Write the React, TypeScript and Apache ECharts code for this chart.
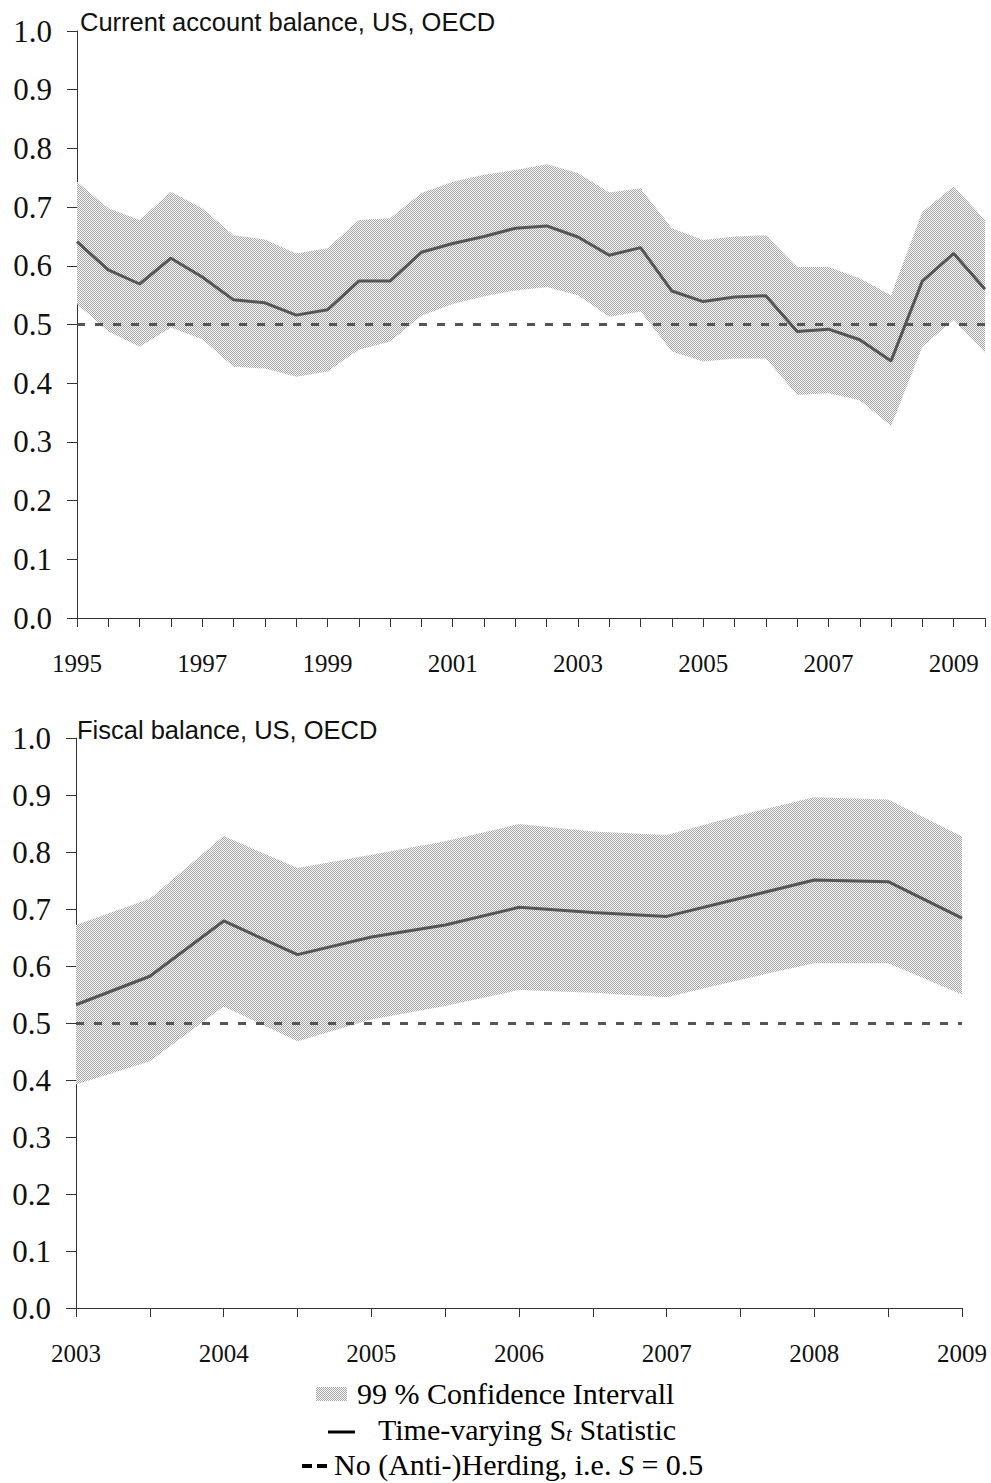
import React, { useEffect, useRef } from "react";
import * as echarts from "echarts";

// ---------- Data ----------
const caCategories = [
  "1995-1", "1995-2", "1996-1", "1996-2", "1997-1", "1997-2", "1998-1", "1998-2",
  "1999-1", "1999-2", "2000-1", "2000-2", "2001-1", "2001-2", "2002-1", "2002-2",
  "2003-1", "2003-2", "2004-1", "2004-2", "2005-1", "2005-2", "2006-1", "2006-2",
  "2007-1", "2007-2", "2008-1", "2008-2", "2009-1", "2009-2",
];
const caStatistic = [
  0.641, 0.593, 0.569, 0.613, 0.581, 0.542, 0.537, 0.516, 0.525, 0.574,
  0.574, 0.623, 0.638, 0.650, 0.664, 0.668, 0.649, 0.618, 0.631, 0.557,
  0.539, 0.547, 0.549, 0.488, 0.492, 0.474, 0.438, 0.574, 0.621, 0.560,
];
const caUpper = [
  0.743, 0.698, 0.678, 0.726, 0.698, 0.652, 0.645, 0.621, 0.630, 0.678,
  0.681, 0.724, 0.743, 0.755, 0.763, 0.773, 0.758, 0.725, 0.732, 0.664,
  0.644, 0.650, 0.652, 0.598, 0.598, 0.579, 0.550, 0.692, 0.735, 0.678,
];
const caLower = [
  0.535, 0.488, 0.462, 0.495, 0.475, 0.428, 0.425, 0.411, 0.420, 0.457,
  0.471, 0.515, 0.535, 0.548, 0.558, 0.564, 0.550, 0.513, 0.522, 0.454,
  0.437, 0.442, 0.442, 0.380, 0.383, 0.371, 0.327, 0.462, 0.508, 0.452,
];

const fbCategories = [
  "2003-1", "2003-2", "2004-1", "2004-2", "2005-1", "2005-2", "2006-1",
  "2006-2", "2007-1", "2007-2", "2008-1", "2008-2", "2009-1",
];
const fbStatistic = [0.532, 0.582, 0.679, 0.620, 0.651, 0.672, 0.703, 0.694, 0.687, 0.719, 0.751, 0.748, 0.684];
const fbUpper = [0.672, 0.718, 0.828, 0.772, 0.795, 0.819, 0.849, 0.836, 0.830, 0.865, 0.896, 0.892, 0.827];
const fbLower = [0.392, 0.433, 0.529, 0.468, 0.506, 0.530, 0.558, 0.553, 0.545, 0.576, 0.605, 0.605, 0.550];

const referenceLevel = 0.5;
const titles = ["Current account balance, US, OECD", "Fiscal balance, US, OECD"];
const legendTexts = [
  "99 % Confidence Intervall",
  "Time-varying S{sub|t} Statistic",
  "No (Anti-)Herding, i.e. {it|S} = 0.5",
];

// ---------- Styles ----------
const SERIF = '"Liberation Serif", "Times New Roman", serif';
const SANS = '"Liberation Sans", Arial, sans-serif';
const LINE_COLOR = "#555555";
const AXIS_COLOR = "#333333";

function makePattern() {
  const c = document.createElement("canvas");
  c.width = 4;
  c.height = 4;
  const ctx = c.getContext("2d")!;
  ctx.fillStyle = "#f8f8f8";
  ctx.fillRect(0, 0, 4, 4);
  ctx.fillStyle = "#a6a6a6";
  for (let y = 0; y < 4; y++) {
    for (let x = 0; x < 4; x++) {
      if ((x + y) % 2 === 0) ctx.fillRect(x, y, 1, 1);
    }
  }
  return { image: c, repeat: "repeat", imageWidth: 4, imageHeight: 4 } as any;
}

export default function App() {
  const ref = useRef<HTMLDivElement>(null);

  useEffect(() => {
    if (!ref.current) return;
    const chart = echarts.init(ref.current, undefined, { renderer: "svg" });
    const pattern = makePattern();

    const grids = [
      { left: 77, top: 31, width: 908, height: 587 },
      { left: 76, top: 738, width: 886, height: 570 },
    ];

    const xAxis = [caCategories, fbCategories].map((cats, i) => ({
      type: "category",
      gridIndex: i,
      data: cats,
      boundaryGap: false,
      axisLine: { show: true, lineStyle: { color: AXIS_COLOR, width: 1 } },
      axisTick: { show: true, interval: 0, length: 9, lineStyle: { color: AXIS_COLOR } },
      axisLabel: {
        interval: i === 0 ? 3 : 1,
        margin: 33,
        fontFamily: SERIF,
        fontSize: 25,
        color: "#111",
        formatter: (v: string) => v.slice(0, 4),
      },
      splitLine: { show: false },
    }));

    const yAxis = [0, 1].map((i) => ({
      type: "value",
      gridIndex: i,
      min: 0,
      max: 1,
      interval: 0.1,
      axisLine: { show: true, lineStyle: { color: AXIS_COLOR, width: 1 } },
      axisTick: { show: true, length: 10, lineStyle: { color: AXIS_COLOR } },
      axisLabel: {
        margin: 25,
        fontFamily: SERIF,
        fontSize: 31,
        color: "#111",
        formatter: (v: number) => v.toFixed(1),
      },
      splitLine: { show: false },
    }));

    const datasets = [
      { stat: caStatistic, up: caUpper, lo: caLower },
      { stat: fbStatistic, up: fbUpper, lo: fbLower },
    ];

    const series: any[] = [];
    datasets.forEach((d, i) => {
      series.push({
        type: "line",
        xAxisIndex: i,
        yAxisIndex: i,
        stack: "ci" + i,
        data: d.lo,
        symbol: "none",
        lineStyle: { opacity: 0 },
        silent: true,
        z: 1,
      });
      series.push({
        type: "line",
        xAxisIndex: i,
        yAxisIndex: i,
        stack: "ci" + i,
        data: d.up.map((u, k) => +(u - d.lo[k]).toFixed(4)),
        symbol: "none",
        lineStyle: { opacity: 0 },
        areaStyle: { color: pattern, opacity: 1 },
        silent: true,
        z: 1,
      });
      series.push({
        type: "line",
        xAxisIndex: i,
        yAxisIndex: i,
        data: d.stat,
        symbol: "none",
        lineStyle: { color: LINE_COLOR, width: 3 },
        z: 3,
        markLine: {
          silent: true,
          symbol: ["none", "none"],
          label: { show: false },
          lineStyle: { color: LINE_COLOR, width: 3, type: [8, 10] },
          data: [{ yAxis: referenceLevel }],
        },
      });
    });

    const graphic: any[] = [
      {
        type: "text",
        x: 80,
        y: 21.7,
        style: { text: titles[0], font: `25.5px ${SANS}`, fill: "#111", verticalAlign: "middle" },
      },
      {
        type: "text",
        x: 77,
        y: 729.7,
        style: { text: titles[1], font: `25.5px ${SANS}`, fill: "#111", verticalAlign: "middle" },
      },
      // legend row 1
      {
        type: "rect",
        shape: { x: 316, y: 1387, width: 31, height: 14 },
        style: { fill: pattern },
      },
      {
        type: "text",
        x: 357,
        y: 1393,
        style: { text: legendTexts[0], font: `30px ${SERIF}`, fill: "#000", verticalAlign: "middle" },
      },
      // legend row 2
      {
        type: "line",
        shape: { x1: 328, y1: 1432, x2: 355, y2: 1432 },
        style: { stroke: "#000", lineWidth: 3 },
      },
      {
        type: "text",
        x: 378,
        y: 1429,
        style: {
          text: legendTexts[1],
          font: `30px ${SERIF}`,
          fill: "#000",
          verticalAlign: "middle",
          rich: {
            sub: { fontSize: 21, fontStyle: "italic", fontFamily: SERIF, verticalAlign: "bottom", fill: "#000" },
          },
        },
      },
      // legend row 3
      {
        type: "line",
        shape: { x1: 302, y1: 1466, x2: 327, y2: 1466 },
        style: { stroke: "#000", lineWidth: 4, lineDash: [10, 5] },
      },
      {
        type: "text",
        x: 334,
        y: 1464,
        style: {
          text: legendTexts[2],
          font: `30px ${SERIF}`,
          fill: "#000",
          verticalAlign: "middle",
          rich: {
            it: { fontSize: 30, fontStyle: "italic", fontFamily: SERIF, fill: "#000" },
          },
        },
      },
    ];

    chart.setOption({
      animation: false,
      backgroundColor: "#ffffff",
      grid: grids,
      xAxis,
      yAxis,
      series,
      graphic,
    } as any);

    return () => chart.dispose();
  }, []);

  return (
    <div
      ref={ref}
      style={{ position: "absolute", left: 0, top: 0, width: 991, height: 1483 }}
    />
  );
}
